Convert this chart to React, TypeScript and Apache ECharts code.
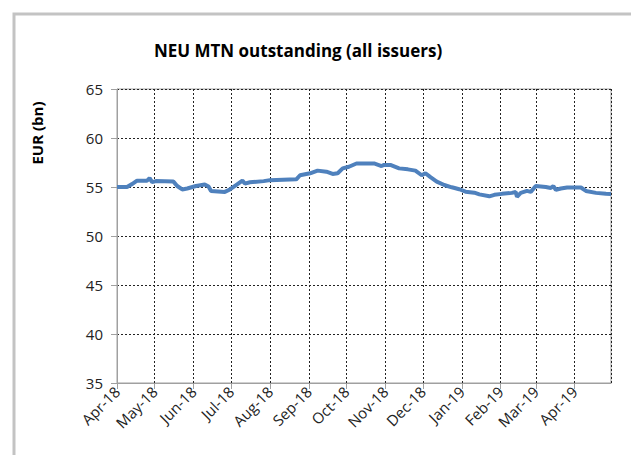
import React, { useEffect, useRef } from "react";
import * as echarts from "echarts";

const dates: string[] = [
  "2018-04-01", "2018-04-09", "2018-04-13", "2018-04-17", "2018-04-25", "2018-04-27", "2018-04-29",
  "2018-05-02", "2018-05-16", "2018-05-19", "2018-05-23", "2018-05-27",
  "2018-06-03", "2018-06-10", "2018-06-13", "2018-06-15", "2018-06-26", "2018-06-30",
  "2018-07-05", "2018-07-10", "2018-07-12", "2018-07-16", "2018-07-27",
  "2018-08-01", "2018-08-22", "2018-08-25",
  "2018-09-02", "2018-09-08", "2018-09-15", "2018-09-20", "2018-09-24", "2018-09-28",
  "2018-10-03", "2018-10-09", "2018-10-23", "2018-10-29", "2018-10-31",
  "2018-11-05", "2018-11-12", "2018-11-19", "2018-11-25", "2018-11-30",
  "2018-12-03", "2018-12-07", "2018-12-12", "2018-12-18", "2018-12-24", "2018-12-30",
  "2019-01-04", "2019-01-11", "2019-01-15", "2019-01-23", "2019-01-27",
  "2019-02-02", "2019-02-10", "2019-02-13", "2019-02-14", "2019-02-17", "2019-02-22", "2019-02-25",
  "2019-03-01", "2019-03-09", "2019-03-13", "2019-03-15", "2019-03-17", "2019-03-21", "2019-03-26",
  "2019-04-06", "2019-04-10", "2019-04-18", "2019-04-26", "2019-04-30",
];

const outstanding: number[] = [
  55.0, 55.0, 55.3, 55.65, 55.65, 55.9, 55.5,
  55.6, 55.55, 55.1, 54.75, 54.85,
  55.1, 55.25, 55.05, 54.6, 54.5, 54.75,
  55.2, 55.65, 55.35, 55.48, 55.6,
  55.7, 55.78, 56.2,
  56.4, 56.67, 56.56, 56.33, 56.4, 56.9,
  57.07, 57.4, 57.4, 57.14, 57.25,
  57.25, 56.9, 56.8, 56.67, 56.2,
  56.4, 56.0, 55.55, 55.2, 54.97, 54.77,
  54.52, 54.42, 54.25, 54.05, 54.2,
  54.3, 54.4, 54.5, 54.0, 54.4, 54.6, 54.5,
  55.1, 55.0, 54.9, 55.1, 54.7, 54.85, 54.95,
  54.95, 54.6, 54.4, 54.3, 54.28,
];

const monthNames: string[] = ["Jan", "Feb", "Mar", "Apr", "May", "Jun", "Jul", "Aug", "Sep", "Oct", "Nov", "Dec"];

const title = "NEU MTN outstanding (all issuers)";
const yName = "EUR (bn)";

export default function App() {
  const ref = useRef<HTMLDivElement>(null);
  useEffect(() => {
    if (!ref.current) return;
    const chart = echarts.init(ref.current, null, { renderer: "svg" });
    const font = "'Open Sans', 'Liberation Sans', sans-serif";
    chart.setOption({
      animation: false,
      backgroundColor: "#ffffff",
      graphic: [
        {
          type: "rect",
          shape: { x: 14, y: 14, width: 700, height: 500 },
          style: { fill: "none", stroke: "#c3c3c3", lineWidth: 3 },
          silent: true,
        },
        {
          type: "text",
          x: 298,
          y: 50,
          style: {
            text: title,
            font: `bold 17px ${font}`,
            fill: "#000000",
            align: "center",
            verticalAlign: "middle",
          },
        },
        {
          type: "text",
          x: 37,
          y: 133,
          rotation: Math.PI / 2,
          style: {
            text: yName,
            font: `bold 15px ${font}`,
            fill: "#000000",
            align: "center",
            verticalAlign: "middle",
          },
        },
      ],
      grid: {
        left: 117,
        right: 20,
        top: 89,
        bottom: 72,
        show: true,
        borderColor: "#a0a0a0",
        borderWidth: 1,
        backgroundColor: "transparent",
      },
      xAxis: {
        type: "time",
        min: "2018-04-01",
        max: "2019-04-30",
        splitNumber: 13,
        axisLine: { show: true, lineStyle: { color: "#a0a0a0", width: 1 } },
        axisTick: { show: true, length: 6, lineStyle: { color: "#a0a0a0" } },
        splitLine: { show: true, lineStyle: { color: "#222222", type: [2, 2], width: 1 } },
        axisLabel: {
          rotate: 45,
          color: "#222222",
          fontFamily: font,
          fontSize: 15,
          margin: 6,
          showMaxLabel: false,
          formatter: (v: number) => {
            const d = new Date(v);
            return `${monthNames[d.getMonth()]}-${String(d.getFullYear()).slice(2)}`;
          },
        },
      },
      yAxis: {
        type: "value",
        min: 35,
        max: 65,
        interval: 5,
        axisLine: { show: true, lineStyle: { color: "#a0a0a0", width: 1 } },
        axisTick: { show: true, length: 6, lineStyle: { color: "#a0a0a0" } },
        splitLine: { show: true, lineStyle: { color: "#222222", type: [2, 2], width: 1 } },
        axisLabel: {
          color: "#222222",
          fontFamily: font,
          fontSize: 15,
          margin: 14,
        },
      },
      series: [
        {
          type: "line",
          data: dates.map((d, i) => [d, outstanding[i]]),
          showSymbol: false,
          symbol: "none",
          lineStyle: { color: "#4f81bd", width: 4 },
        },
      ],
    });
    return () => chart.dispose();
  }, []);
  return (
    <div
      ref={ref}
      style={{ position: "fixed", left: 0, top: 0, width: 631, height: 455 }}
    />
  );
}
